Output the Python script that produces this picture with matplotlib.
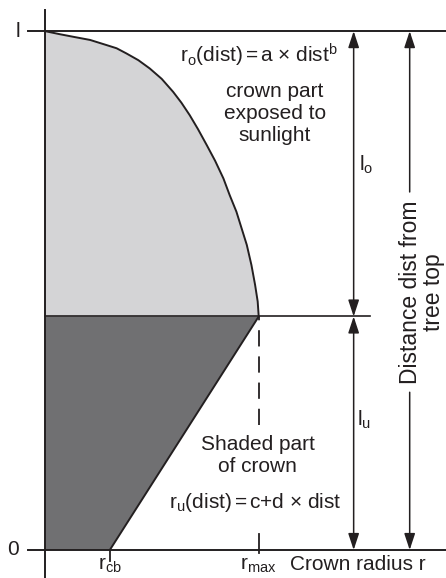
import numpy as np
import matplotlib
matplotlib.use('Agg')
import matplotlib.pyplot as plt

# Crown model geometry (arbitrary units, height measured up from crown base)
tree_l = 10.0          # tree top
l_u = 4.5              # shaded part length
l_o = tree_l - l_u     # sunlit part length
r_max = 4.12
r_cb = 1.25

# Sunlit crown outline: radius vs distance from the top
curve_r = [0.0, 0.29, 0.55, 0.87, 1.19, 1.38, 1.57, 1.80, 2.02, 2.25, 2.47, 2.63,
           2.79, 2.95, 3.12, 3.28, 3.44, 3.56, 3.69, 3.79, 3.89, 3.98, 4.05, 4.10, 4.12]
curve_dist = [0.0, 0.06, 0.11, 0.17, 0.27, 0.33, 0.43, 0.56, 0.72, 0.92, 1.17, 1.38,
              1.62, 1.89, 2.20, 2.50, 2.84, 3.16, 3.48, 3.80, 4.12, 4.51, 4.89, 5.21, 5.5]

plt.rcParams['font.family'] = ['Liberation Sans', 'DejaVu Sans']
plt.rcParams['mathtext.fontset'] = 'custom'
plt.rcParams['mathtext.rm'] = 'Liberation Sans'
plt.rcParams['mathtext.it'] = 'Liberation Sans'
fs = 15
tc = '#231f20'
lc = '#231f20'

fig = plt.figure(figsize=(4.46, 5.78), dpi=100)
ax = fig.add_axes([0, 0, 1, 1])
ax.set_xlim(-0.867, 7.73)
ax.set_ylim(-0.54, 10.60)
ax.axis('off')

curve_h = [tree_l - d for d in curve_dist]

# fills
ax.fill([0] + curve_r, [l_u] + curve_h, color='#d4d4d6', lw=0)
ax.fill([0, r_cb, r_max, 0], [0, 0, l_u, l_u], color='#707072', lw=0)

# outlines
ax.plot(curve_r, curve_h, color=lc, lw=1.4, solid_capstyle='round', solid_joinstyle='round')
ax.plot([r_cb, r_max], [0, l_u], color=lc, lw=1.4)
ax.plot([r_max, r_max], [2.4, l_u], color=lc, lw=1.3, ls=(0, (9, 5.5)))
ax.plot([r_cb, r_cb], [-0.22, 0], color=lc, lw=1.3)
ax.plot([r_max, r_max], [-0.06, 0.3], color=lc, lw=1.3)

# axes lines
ax.plot([0, 0], [-0.6, 10.4], color=lc, lw=1.4)
ax.plot([-0.33, 7.8], [tree_l, tree_l], color=lc, lw=1.4)
ax.plot([-0.33, 7.8], [0, 0], color=lc, lw=1.4)
ax.plot([0, 6.26], [l_u, l_u], color=lc, lw=1.2)

# dimension arrows
ap = dict(arrowstyle='<|-|>,head_length=1.0,head_width=0.33', color=lc, lw=1.1,
          shrinkA=0, shrinkB=0, mutation_scale=10)
x_arr = 5.95
ax.annotate('', xy=(x_arr, tree_l), xytext=(x_arr, l_u), arrowprops=ap)
ax.annotate('', xy=(x_arr, l_u), xytext=(x_arr, 0), arrowprops=ap)
ap1 = dict(ap, arrowstyle='-|>,head_length=1.0,head_width=0.33')
x_dist = 7.03
ax.annotate('', xy=(x_dist, tree_l), xytext=(x_dist, 6.9), arrowprops=ap1)
ax.annotate('', xy=(x_dist, 0), xytext=(x_dist, 3.04), arrowprops=ap1)

# texts
ax.text(-0.52, tree_l, 'l', fontsize=fs, color=tc, ha='center', va='center')
ax.text(-0.62, 0, '0', fontsize=fs, color=tc, ha='center', va='center')
ax.text(4.12, 9.54, r'r$_\mathregular{o}$(dist)$\,$=$\,$a × dist$^\mathregular{b}$',
        fontsize=fs, color=tc, ha='center', va='center')
ax.text(4.43, 8.42, 'crown part\nexposed to\nsunlight', fontsize=fs, color=tc,
        ha='center', va='center', linespacing=1.2)
ax.text(6.2, 7.42, r'l$_\mathregular{o}$', fontsize=fs, color=tc, ha='center', va='center')
ax.text(6.15, 2.5, r'l$_\mathregular{u}$', fontsize=fs, color=tc, ha='center', va='center')
ax.text(4.1, 1.83, 'Shaded part\nof crown', fontsize=fs, color=tc,
        ha='center', va='center', linespacing=1.2)
ax.text(4.05, 0.92, r'r$_\mathregular{u}$(dist)$\,$=$\,$c+d × dist',
        fontsize=fs, color=tc, ha='center', va='center')
ax.text(7.26, 4.97, 'Distance dist from\ntree top', fontsize=16.5, color=tc,
        rotation=90, ha='center', va='center', multialignment='center', linespacing=1.0)
ax.text(r_cb, -0.3, r'r$_\mathregular{cb}$', fontsize=fs, color=tc, ha='center', va='center')
ax.text(r_max, -0.3, r'r$_\mathregular{max}$', fontsize=fs, color=tc, ha='center', va='center')
ax.text(4.72, -0.28, 'Crown radius r', fontsize=fs, color=tc, ha='left', va='center')

plt.savefig('out.png', dpi=100)
